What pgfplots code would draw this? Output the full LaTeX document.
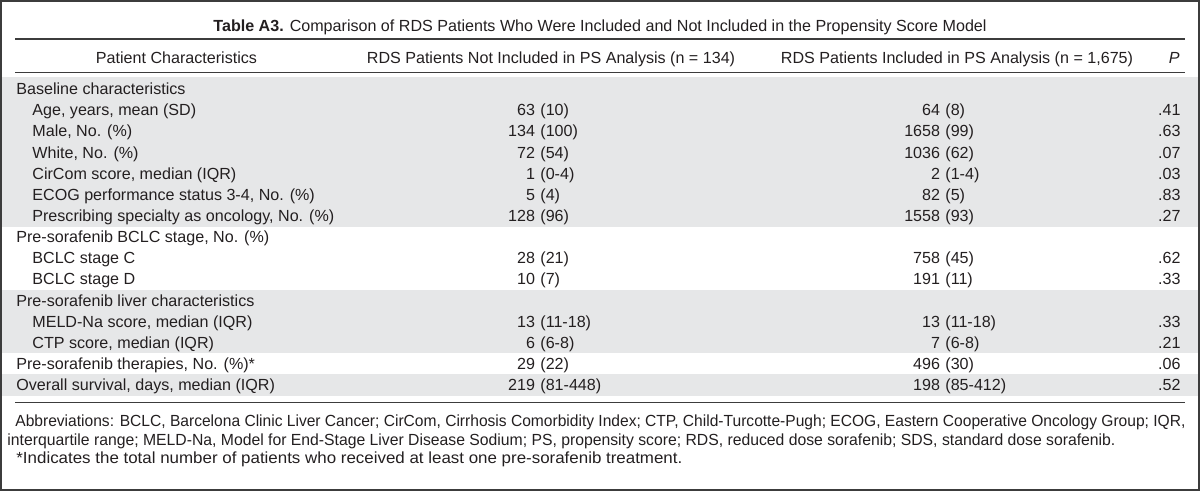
\documentclass[border=0pt]{standalone}
\usepackage{graphicx}
\usepackage{pgfplots}
\usepackage{pgfplotstable}
\pgfplotsset{compat=1.18}
\usepackage{fontspec}
\setmainfont{Liberation Sans}
\definecolor{band}{RGB}{230,231,232}
\definecolor{ink}{RGB}{35,31,32}
\definecolor{framec}{RGB}{60,60,60}
\newcommand\fs{\fontsize{8.05bp}{10bp}\selectfont}

% baseline y (px from top), values of the two RDS groups and P
\pgfplotstableread{
y     n1   p1        n2    p2        P
115.7 63   (10)      64    (8)       .41
136.8 134  (100)     1658  (99)      .63
158.0 72   (54)      1036  (62)      .07
179.1 1    (0-4)     2     (1-4)     .03
200.3 5    (4)       82    (5)       .83
221.4 128  (96)      1558  (93)      .27
263.7 28   (21)      758   (45)      .62
284.9 10   (7)       191   (11)      .33
327.2 13   (11-18)   13    (11-18)   .33
348.3 6    (6-8)     7     (6-8)     .21
369.4 29   (22)      496   (30)      .06
390.6 219  (81-448)  198   (85-412)  .52
}\vals

\begin{document}
\begin{tikzpicture}
\begin{axis}[width=600bp, height=245.5bp, scale only axis,
  xmin=0, xmax=1200, ymin=0, ymax=491, y dir=reverse,
  hide axis, clip=false]
% shaded bands
\fill[band] (axis cs:0,77.5) rectangle (axis cs:1200,226.5);
\fill[band] (axis cs:0,289.5) rectangle (axis cs:1200,353.2);
\fill[band] (axis cs:0,374.3) rectangle (axis cs:1200,395.8);
% rules
\draw[framec, line width=0.8bp] (axis cs:15,39.3) -- (axis cs:1185,39.3);
\draw[framec, line width=0.8bp] (axis cs:15,72.7) -- (axis cs:1185,72.7);
\draw[framec, line width=0.8bp] (axis cs:15,402.3) -- (axis cs:1185,402.3);
% frame
\draw[framec, line width=1bp] (axis cs:1,1) rectangle (axis cs:1199,490);

\begin{scope}[every node/.style={font=\fs, text=ink, inner sep=0pt}]
% title
\node[anchor=base] at (axis cs:600,31.7) {\textbf{Table A3.} Comparison of RDS Patients Who Were Included and Not Included in the Propensity Score Model};
% header
\node[anchor=base] at (axis cs:176.5,63.8) {Patient Characteristics};
\node[anchor=base] at (axis cs:551,63.8) {RDS Patients Not Included in PS Analysis (n = 134)};
\node[anchor=base] at (axis cs:957,63.8) {RDS Patients Included in PS Analysis (n = 1,675)};
\node[anchor=base east] at (axis cs:1180,63.8) {\itshape P};
% row labels
\node[anchor=base west] at (axis cs:16,94.5) {Baseline characteristics};
\node[anchor=base west] at (axis cs:32,115.7) {Age, years, mean (SD)};
\node[anchor=base west] at (axis cs:32,136.8) {Male, No. (\%)};
\node[anchor=base west] at (axis cs:32,158.0) {White, No. (\%)};
\node[anchor=base west] at (axis cs:32,179.1) {CirCom score, median (IQR)};
\node[anchor=base west] at (axis cs:32,200.3) {ECOG performance status 3-4, No. (\%)};
\node[anchor=base west] at (axis cs:32,221.4) {Prescribing specialty as oncology, No. (\%)};
\node[anchor=base west] at (axis cs:16,242.6) {Pre-sorafenib BCLC stage, No. (\%)};
\node[anchor=base west] at (axis cs:32,263.7) {BCLC stage C};
\node[anchor=base west] at (axis cs:32,284.9) {BCLC stage D};
\node[anchor=base west] at (axis cs:16,306.0) {Pre-sorafenib liver characteristics};
\node[anchor=base west] at (axis cs:32,327.2) {MELD-Na score, median (IQR)};
\node[anchor=base west] at (axis cs:32,348.3) {CTP score, median (IQR)};
\node[anchor=base west] at (axis cs:16,369.4) {Pre-sorafenib therapies, No. (\%)*};
\node[anchor=base west] at (axis cs:16,390.6) {Overall survival, days, median (IQR)};
% footnotes
\node[anchor=base west] at (axis cs:15,426.5) {\resizebox{585bp}{\height}{Abbreviations: BCLC, Barcelona Clinic Liver Cancer; CirCom, Cirrhosis Comorbidity Index; CTP, Child-Turcotte-Pugh; ECOG, Eastern Cooperative Oncology Group; IQR,}};
\node[anchor=base west] at (axis cs:7,445.3) {\resizebox{554bp}{\height}{interquartile range; MELD-Na, Model for End-Stage Liver Disease Sodium; PS, propensity score; RDS, reduced dose sorafenib; SDS, standard dose sorafenib.}};
\node[anchor=base west] at (axis cs:16,463.5) {\resizebox{333bp}{\height}{*Indicates the total number of patients who received at least one pre-sorafenib treatment.}};
\end{scope}

% values
\addplot[draw=none, mark=none, nodes near coords, point meta=explicit symbolic,
  nodes near coords style={anchor=base east, inner sep=0pt, font=\fs, text=ink}]
  table[x expr=535.5, y=y, meta=n1] {\vals};
\addplot[draw=none, mark=none, nodes near coords, point meta=explicit symbolic,
  nodes near coords style={anchor=base west, inner sep=0pt, font=\fs, text=ink}]
  table[x expr=540, y=y, meta=p1] {\vals};
\addplot[draw=none, mark=none, nodes near coords, point meta=explicit symbolic,
  nodes near coords style={anchor=base east, inner sep=0pt, font=\fs, text=ink}]
  table[x expr=940.5, y=y, meta=n2] {\vals};
\addplot[draw=none, mark=none, nodes near coords, point meta=explicit symbolic,
  nodes near coords style={anchor=base west, inner sep=0pt, font=\fs, text=ink}]
  table[x expr=945, y=y, meta=p2] {\vals};
\addplot[draw=none, mark=none, nodes near coords, point meta=explicit symbolic,
  nodes near coords style={anchor=base east, inner sep=0pt, font=\fs, text=ink}]
  table[x expr=1181, y=y, meta=P] {\vals};
\end{axis}
\end{tikzpicture}
\end{document}
